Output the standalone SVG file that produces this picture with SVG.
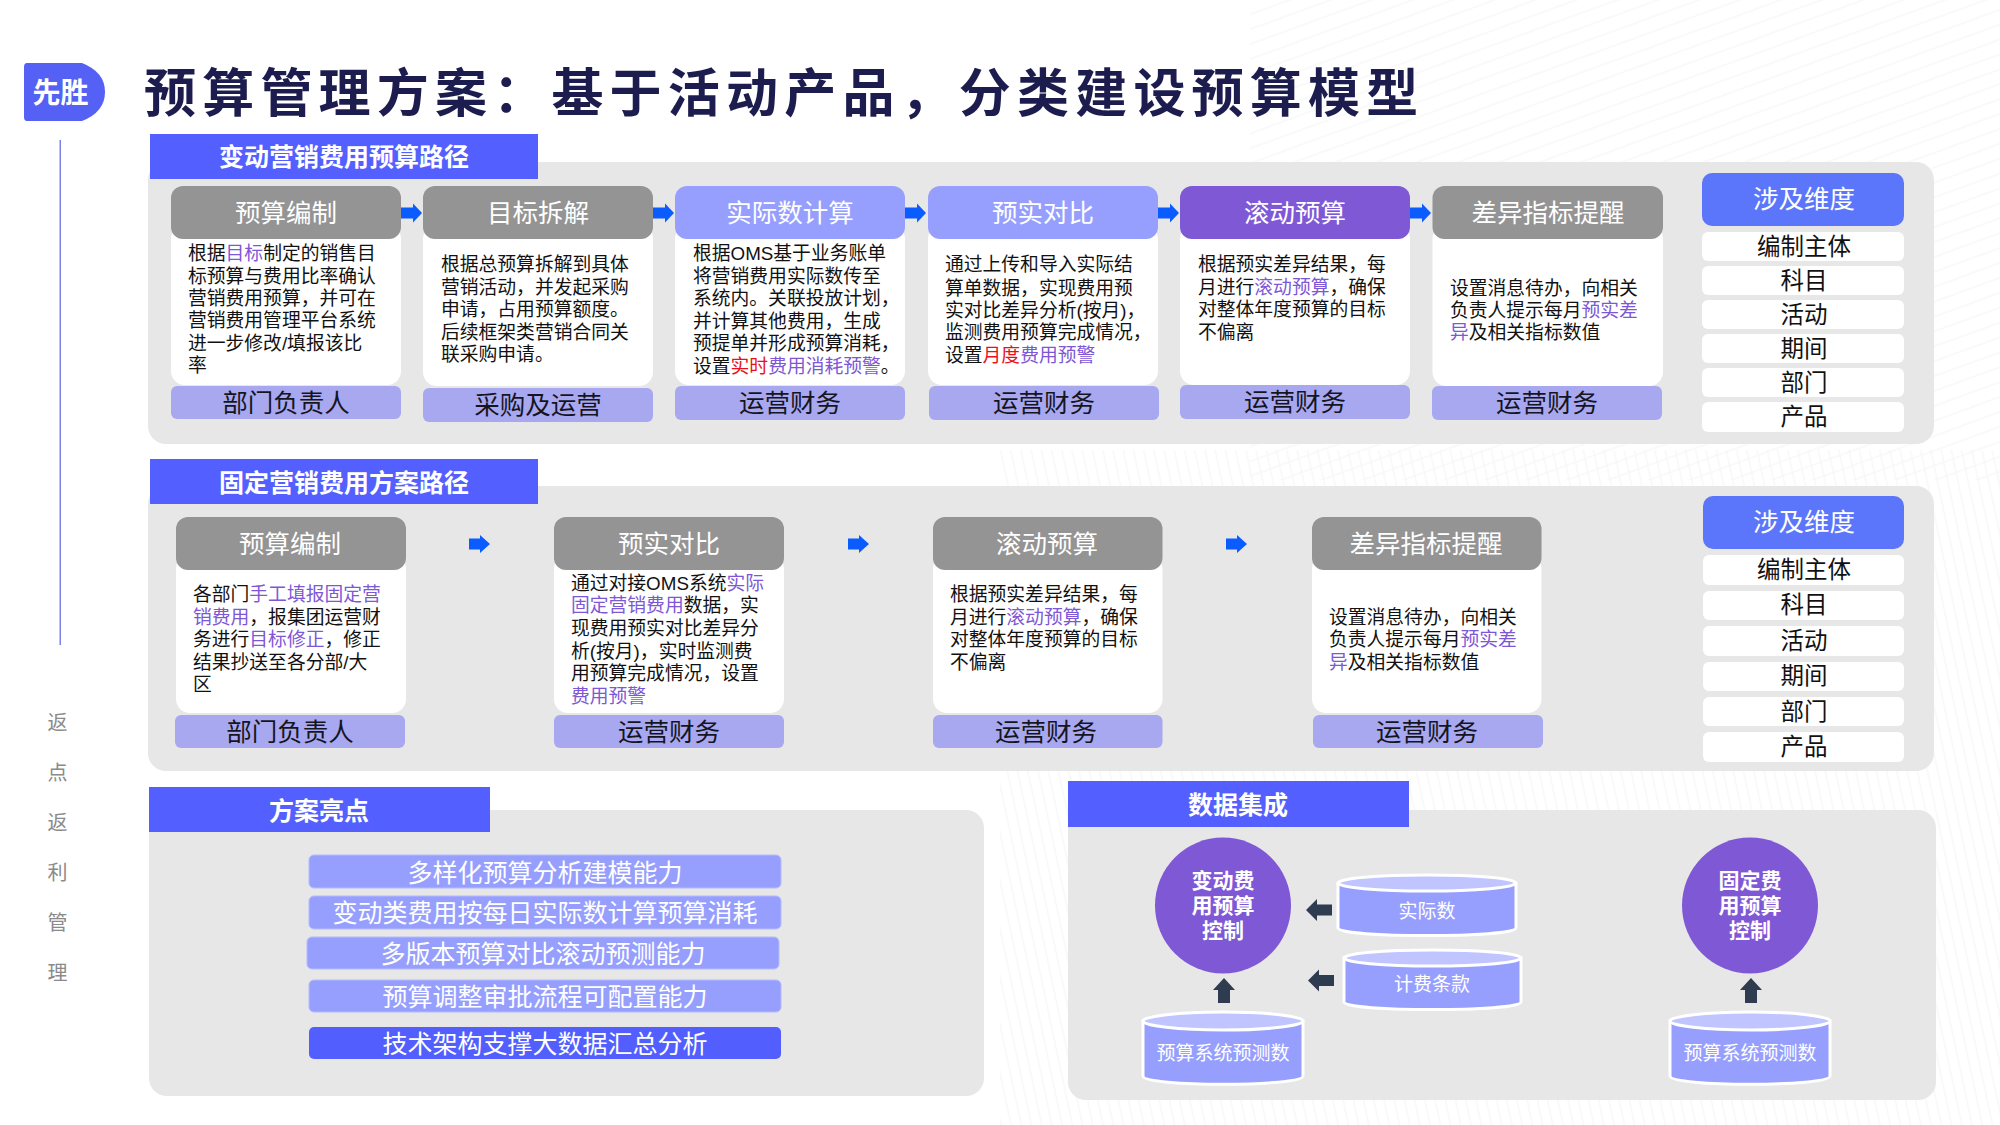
<svg xmlns="http://www.w3.org/2000/svg" width="2000" height="1125" viewBox="0 0 2000 1125">
<style>
text{font-family:"Liberation Sans","Noto Sans CJK SC",sans-serif}
.panel{fill:#e7e7e7}
.banner{fill:#535ffe}
.bt{font-size:25px;font-weight:700;fill:#fff;text-anchor:middle}
.hg{fill:#949494}.hb{fill:#979ffe}.hp{fill:#7f58d6}
.ht{font-size:25.500px;fill:#fff;text-anchor:middle}
.body{fill:#fff}
.foot{fill:#a8a8f0}
.ft{font-size:25.500px;fill:#15151f;text-anchor:middle}
.tx{font-size:18.800px;fill:#111}
.pu{fill:#7e57d6}.re{fill:#e8101a}
.dh{fill:#5b76fb}
.dr{fill:#fff}
.dt{font-size:23.500px;fill:#111;text-anchor:middle}
.side{font-size:20px;fill:#8a8a8a;text-anchor:middle}
.bar{fill:#979ffe;stroke:#b5baff;stroke-width:1}
.bt2{font-size:25px;fill:#fff;text-anchor:middle}
.cyl{fill:#979ffe;stroke:#fff;stroke-width:3}
.cylt{fill:#c0c4ff;stroke:#fff;stroke-width:3}
.ct{font-size:19px;fill:#fff;text-anchor:middle}
.circ{fill:#7f58d6}
.cit{font-size:21px;font-weight:700;fill:#fff;text-anchor:middle}
.ba{fill:#0a5cff}.da{fill:#2f3b4f}
</style>
<defs>
<pattern id="p1" width="40" height="14" patternUnits="userSpaceOnUse" patternTransform="rotate(-20)"><path d="M0,7H40" stroke="#f4f4f4" stroke-width="1"/></pattern>
<pattern id="p2" width="10" height="40" patternUnits="userSpaceOnUse" patternTransform="rotate(-12)"><path d="M5,0V40" stroke="#f4f4f4" stroke-width="1"/></pattern>
<path id="arrow" d="M0,-5.500H12V-9.500L21,0L12,9.500V5.500H0Z"/>
<path id="arrowS" d="M0,-5.500H11V-9L21,0L11,9V5.500H0Z"/>
<path id="left" d="M0,-5.500V5.500H-15V11L-26,0L-15,-11V-5.500Z"/>
<path id="up" d="M-6,25H6V12H11L0,0L-11,12H-6Z"/>
</defs>
<rect width="2000" height="1125" fill="#fff"/>
<rect id="bgA" x="1250" y="0" width="750" height="480" fill="url(#p1)"/>
<rect id="bgB" x="1000" y="450" width="1000" height="675" fill="url(#p2)"/>

<g id="logo"><path d="M27,63H82Q105,72 105,92Q105,112 82,121H27Q24,121 24,117V67Q24,63 27,63Z" fill="#5560f5"/><text x="60.500" y="103" font-size="28" font-weight="700" fill="#fff" text-anchor="middle">先胜</text></g>
<text id="title" x="144" y="112" font-size="52" font-weight="700" letter-spacing="6.200" fill="#1c1c4e">预算管理方案：基于活动产品，分类建设预算模型</text>
<g id="sidebar">
<rect x="59.500" y="140" width="1.500" height="505" fill="#7b83e8"/>
<text class="side" x="57.500" y="730">返</text><text class="side" x="57.500" y="780">点</text><text class="side" x="57.500" y="830">返</text><text class="side" x="57.500" y="880">利</text><text class="side" x="57.500" y="930">管</text><text class="side" x="57.500" y="980">理</text>
</g>

<g id="panels">
<rect class="panel" x="148" y="162" width="1786" height="282" rx="18"/>
<rect class="panel" x="148" y="486" width="1786" height="285" rx="18"/>
<rect class="panel" x="149" y="810" width="835" height="286" rx="18"/>
<rect class="panel" x="1068" y="810" width="868" height="290" rx="18"/>
</g>
<g id="banner-variable"><rect class="banner" x="150" y="134" width="388" height="45"/><text class="bt" x="344" y="166">变动营销费用预算路径</text></g>
<g id="banner-fixed"><rect class="banner" x="150" y="459" width="388" height="45"/><text class="bt" x="344" y="492">固定营销费用方案路径</text></g>
<g id="banner-highlights"><rect class="banner" x="149" y="787" width="341" height="45"/><text class="bt" x="319" y="820">方案亮点</text></g>
<g id="banner-data"><rect class="banner" x="1068" y="781" width="341" height="46"/><text class="bt" x="1238" y="814">数据集成</text></g>

<g id="v1">
<rect class="body" x="171" y="225" width="230" height="160" rx="14"/><rect class="hg" x="171" y="186" width="230" height="53" rx="12"/><text class="ht" x="286" y="222">预算编制</text>
<text class="tx" x="188" y="260">根据<tspan class="pu">目标</tspan>制定的销售目</text><text class="tx" x="188" y="282.500">标预算与费用比率确认</text><text class="tx" x="188" y="305">营销费用预算，并可在</text><text class="tx" x="188" y="327">营销费用管理平台系统</text><text class="tx" x="188" y="350">进一步修改/填报该比</text><text class="tx" x="188" y="372">率</text>
<rect class="foot" x="171" y="386" width="230" height="33" rx="6"/><text class="ft" x="286" y="412">部门负责人</text>
</g>
<g id="v2">
<rect class="body" x="423" y="225" width="230" height="161" rx="14"/><rect class="hg" x="423" y="186" width="230" height="53" rx="12"/><text class="ht" x="538" y="222">目标拆解</text>
<text class="tx" x="441" y="271">根据总预算拆解到具体</text><text class="tx" x="441" y="294">营销活动，并发起采购</text><text class="tx" x="441" y="316">申请，占用预算额度。</text><text class="tx" x="441" y="339">后续框架类营销合同关</text><text class="tx" x="441" y="361">联采购申请。</text>
<rect class="foot" x="423" y="388" width="230" height="34" rx="6"/><text class="ft" x="538" y="414">采购及运营</text>
</g>
<g id="v3">
<rect class="body" x="675" y="225" width="230" height="160" rx="14"/><rect class="hb" x="675" y="186" width="230" height="53" rx="12"/><text class="ht" x="790" y="222">实际数计算</text>
<text class="tx" x="693" y="260">根据OMS基于业务账单</text><text class="tx" x="693" y="283">将营销费用实际数传至</text><text class="tx" x="693" y="305">系统内。关联投放计划，</text><text class="tx" x="693" y="328">并计算其他费用，生成</text><text class="tx" x="693" y="350">预提单并形成预算消耗，</text><text class="tx" x="693" y="373">设置<tspan class="re">实时</tspan><tspan class="pu">费用消耗预警</tspan>。</text>
<rect class="foot" x="675" y="386" width="230" height="34" rx="6"/><text class="ft" x="790" y="412">运营财务</text>
</g>
<g id="v4">
<rect class="body" x="928" y="225" width="230" height="160" rx="14"/><rect class="hb" x="928" y="186" width="230" height="53" rx="12"/><text class="ht" x="1043" y="222">预实对比</text>
<text class="tx" x="945" y="271">通过上传和导入实际结</text><text class="tx" x="945" y="295">算单数据，实现费用预</text><text class="tx" x="945" y="317">实对比差异分析(按月)，</text><text class="tx" x="945" y="339">监测费用预算完成情况，</text><text class="tx" x="945" y="362">设置<tspan class="re">月度</tspan><tspan class="pu">费用预警</tspan></text>
<rect class="foot" x="929" y="386" width="230" height="34" rx="6"/><text class="ft" x="1044" y="412">运营财务</text>
</g>
<g id="v5">
<rect class="body" x="1180" y="225" width="230" height="160" rx="14"/><rect class="hp" x="1180" y="186" width="230" height="53" rx="12"/><text class="ht" x="1295" y="222">滚动预算</text>
<text class="tx" x="1198" y="271">根据预实差异结果，每</text><text class="tx" x="1198" y="294">月进行<tspan class="pu">滚动预算</tspan>，确保</text><text class="tx" x="1198" y="316">对整体年度预算的目标</text><text class="tx" x="1198" y="339">不偏离</text>
<rect class="foot" x="1180" y="385" width="230" height="34" rx="6"/><text class="ft" x="1295" y="411">运营财务</text>
</g>
<g id="v6">
<rect class="body" x="1432.500" y="225" width="230.500" height="161" rx="14"/><rect class="hg" x="1432.500" y="186" width="230.500" height="53" rx="12"/><text class="ht" x="1548" y="222">差异指标提醒</text>
<text class="tx" x="1450" y="295">设置消息待办，向相关</text><text class="tx" x="1450" y="317">负责人提示每月<tspan class="pu">预实差</tspan></text><text class="tx" x="1450" y="339"><tspan class="pu">异</tspan>及相关指标数值</text>
<rect class="foot" x="1432" y="386" width="230" height="34" rx="6"/><text class="ft" x="1547" y="412">运营财务</text>
</g>
<g id="dims1">
<rect class="dh" x="1702" y="173" width="202" height="53" rx="10"/><text class="ht" x="1804" y="208">涉及维度</text>
<rect class="dr" x="1702" y="232" width="202" height="29" rx="6"/><text class="dt" x="1804" y="255">编制主体</text>
<rect class="dr" x="1702" y="266" width="202" height="29" rx="6"/><text class="dt" x="1804" y="289">科目</text>
<rect class="dr" x="1702" y="300" width="202" height="29" rx="6"/><text class="dt" x="1804" y="323">活动</text>
<rect class="dr" x="1702" y="334" width="202" height="29" rx="6"/><text class="dt" x="1804" y="357">期间</text>
<rect class="dr" x="1702" y="368" width="202" height="29" rx="6"/><text class="dt" x="1804" y="391">部门</text>
<rect class="dr" x="1702" y="402" width="202" height="30" rx="6"/><text class="dt" x="1804" y="425">产品</text>
</g>

<g id="f1">
<rect class="body" x="176" y="555" width="230" height="158" rx="14"/><rect class="hg" x="176" y="517" width="230" height="53" rx="12"/><text class="ht" x="290" y="553">预算编制</text>
<text class="tx" x="193" y="601">各部门<tspan class="pu">手工填报固定营</tspan></text><text class="tx" x="193" y="624"><tspan class="pu">销费用</tspan>，报集团运营财</text><text class="tx" x="193" y="646">务进行<tspan class="pu">目标修正</tspan>，修正</text><text class="tx" x="193" y="669">结果抄送至各分部/大</text><text class="tx" x="193" y="691">区</text>
<rect class="foot" x="175" y="715" width="230" height="33" rx="6"/><text class="ft" x="290" y="741">部门负责人</text>
</g>
<g id="f2">
<rect class="body" x="554" y="555" width="230" height="158" rx="14"/><rect class="hg" x="554" y="517" width="230" height="53" rx="12"/><text class="ht" x="669" y="553">预实对比</text>
<text class="tx" x="571" y="590">通过对接OMS系统<tspan class="pu">实际</tspan></text><text class="tx" x="571" y="612"><tspan class="pu">固定营销费用</tspan>数据，实</text><text class="tx" x="571" y="635">现费用预实对比差异分</text><text class="tx" x="571" y="658">析(按月)，实时监测费</text><text class="tx" x="571" y="680">用预算完成情况，设置</text><text class="tx" x="571" y="703"><tspan class="pu">费用预警</tspan></text>
<rect class="foot" x="554" y="715" width="230" height="33" rx="6"/><text class="ft" x="669" y="741">运营财务</text>
</g>
<g id="f3">
<rect class="body" x="933" y="555" width="229.500" height="158" rx="14"/><rect class="hg" x="933" y="517" width="229.500" height="53" rx="12"/><text class="ht" x="1047" y="553">滚动预算</text>
<text class="tx" x="950" y="601">根据预实差异结果，每</text><text class="tx" x="950" y="624">月进行<tspan class="pu">滚动预算</tspan>，确保</text><text class="tx" x="950" y="646">对整体年度预算的目标</text><text class="tx" x="950" y="669">不偏离</text>
<rect class="foot" x="933" y="715" width="229.500" height="33" rx="6"/><text class="ft" x="1046" y="741">运营财务</text>
</g>
<g id="f4">
<rect class="body" x="1312" y="555" width="229.500" height="158" rx="14"/><rect class="hg" x="1312" y="517" width="229.500" height="53" rx="12"/><text class="ht" x="1426" y="553">差异指标提醒</text>
<text class="tx" x="1329" y="624">设置消息待办，向相关</text><text class="tx" x="1329" y="646">负责人提示每月<tspan class="pu">预实差</tspan></text><text class="tx" x="1329" y="669"><tspan class="pu">异</tspan>及相关指标数值</text>
<rect class="foot" x="1313" y="715" width="230" height="33" rx="6"/><text class="ft" x="1427" y="741">运营财务</text>
</g>
<g id="dims2">
<rect class="dh" x="1703" y="496" width="201" height="53" rx="10"/><text class="ht" x="1804" y="531">涉及维度</text>
<rect class="dr" x="1703" y="555" width="201" height="30" rx="6"/><text class="dt" x="1804" y="578">编制主体</text>
<rect class="dr" x="1703" y="591" width="201" height="29" rx="6"/><text class="dt" x="1804" y="613">科目</text>
<rect class="dr" x="1703" y="626" width="201" height="30" rx="6"/><text class="dt" x="1804" y="649">活动</text>
<rect class="dr" x="1703" y="662" width="201" height="29" rx="6"/><text class="dt" x="1804" y="684">期间</text>
<rect class="dr" x="1703" y="697" width="201" height="29" rx="6"/><text class="dt" x="1804" y="720">部门</text>
<rect class="dr" x="1703" y="732" width="201" height="30" rx="6"/><text class="dt" x="1804" y="755">产品</text>
</g>

<g id="highlights">
<g id="h1"><rect class="bar" x="309" y="855" width="472" height="33" rx="5"/><text class="bt2" x="545" y="882">多样化预算分析建模能力</text></g>
<g id="h2"><rect class="bar" x="309" y="896" width="472" height="33" rx="5"/><text class="bt2" x="545" y="922">变动类费用按每日实际数计算预算消耗</text></g>
<g id="h3"><rect class="bar" x="307" y="937" width="472" height="32" rx="5"/><text class="bt2" x="543" y="963">多版本预算对比滚动预测能力</text></g>
<g id="h4"><rect class="bar" x="309" y="980" width="472" height="32" rx="5"/><text class="bt2" x="545" y="1006">预算调整审批流程可配置能力</text></g>
<g id="h5"><rect x="309" y="1027" width="472" height="32" rx="5" fill="#525ffe"/><text class="bt2" x="545" y="1053">技术架构支撑大数据汇总分析</text></g>
</g>

<g id="ctrl-variable"><circle class="circ" cx="1223" cy="905.500" r="68"/><text class="cit" x="1223" y="888">变动费</text><text class="cit" x="1223" y="913">用预算</text><text class="cit" x="1223" y="938">控制</text></g>
<g id="ctrl-fixed"><circle class="circ" cx="1750" cy="905.500" r="68"/><text class="cit" x="1750" y="888">固定费</text><text class="cit" x="1750" y="913">用预算</text><text class="cit" x="1750" y="938">控制</text></g>
<g id="cyl-actual"><path class="cyl" d="M1338,884V928C1338,938 1516,938 1516,928V884Z"/><ellipse class="cylt" cx="1427" cy="883" rx="89" ry="8"/><text class="ct" x="1427" y="918">实际数</text></g>
<g id="cyl-terms"><path class="cyl" d="M1344,958V1002C1344,1012 1521,1012 1521,1002V958Z"/><ellipse class="cylt" cx="1432.500" cy="958" rx="88.500" ry="8"/><text class="ct" x="1432" y="991">计费条款</text></g>
<g id="cyl-forecast1"><path class="cyl" d="M1143,1021V1076C1143,1087 1303,1087 1303,1076V1021Z"/><ellipse class="cylt" cx="1223" cy="1021" rx="80" ry="9"/><text class="ct" x="1223" y="1060">预算系统预测数</text></g>
<g id="cyl-forecast2"><path class="cyl" d="M1670,1021V1076C1670,1087 1830,1087 1830,1076V1021Z"/><ellipse class="cylt" cx="1750" cy="1021" rx="80" ry="9"/><text class="ct" x="1750" y="1060">预算系统预测数</text></g>

<g id="connectors">
<use href="#arrow" class="ba" x="401" y="213"/><use href="#arrow" class="ba" x="653" y="213"/><use href="#arrow" class="ba" x="905" y="213"/><use href="#arrow" class="ba" x="1158" y="213"/><use href="#arrow" class="ba" x="1410" y="213"/>
<use href="#arrowS" class="ba" x="469" y="544"/><use href="#arrowS" class="ba" x="848" y="544"/><use href="#arrowS" class="ba" x="1226" y="544"/>
<use href="#left" class="da" x="1332" y="910"/><use href="#left" class="da" x="1334" y="980.500"/>
<use href="#up" class="da" x="1224" y="978"/><use href="#up" class="da" x="1751" y="978"/>
</g>
</svg>
